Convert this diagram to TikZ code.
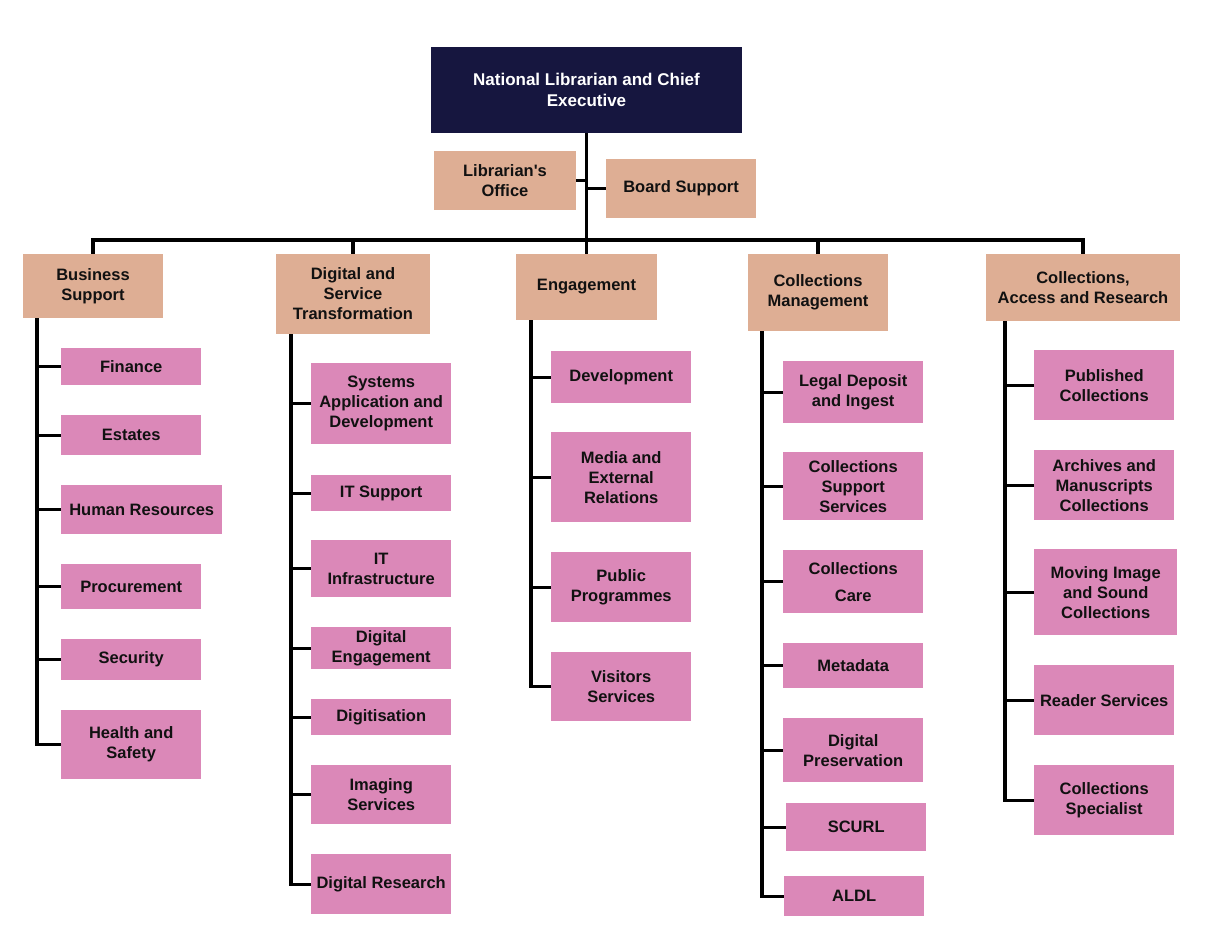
\documentclass[tikz,border=0pt]{standalone}
\usepackage{fontspec}
\setmainfont{Liberation Sans}[Ligatures=TeXOff]
\definecolor{navy}{HTML}{16163F}
\definecolor{tan}{HTML}{DEAE94}
\definecolor{pinkbox}{HTML}{DB88B8}
\definecolor{ink}{HTML}{111111}
\begin{document}
\begin{tikzpicture}[x=1pt,y=-1pt,
  box/.style={inner sep=0pt, align=center, text=ink,
    font=\bfseries\fontsize{16.5}{20}\selectfont},
  topbox/.style={box, fill=navy, text=white, font=\bfseries\fontsize{17}{21}\selectfont},
  midbox/.style={box, fill=tan},
  leaf/.style={box, fill=pinkbox, anchor=north west, minimum width=140},
  conn/.style={draw=black, line width=3.2pt, line join=miter}]
\useasboundingbox (0,0) rectangle (1210,946);
\fill[white] (0,0) rectangle (1210,946);

% top level
\node[topbox, minimum width=311, minimum height=86] (ceo) at (586.5,90) {National Librarian and Chief\\Executive};
\node[midbox, minimum width=142, minimum height=59] (lo) at (505,180.5) {Librarian's\\Office};
\node[midbox, minimum width=150, minimum height=59] (bsup) at (681,188.5) {Board Support};

% second level
\node[midbox, minimum width=140, minimum height=64] (bus) at (93,286) {Business\\Support};
\node[midbox, minimum width=154, minimum height=80] (dst) at (353,294) {Digital and\\Service\\Transformation};
\node[midbox, minimum width=141, minimum height=66] (eng) at (586.5,287) {Engagement};
\node[midbox, minimum width=140, minimum height=77] (cm) at (818,292.5) {Collections\\Management};
\node[midbox, minimum width=194, minimum height=67] (car) at (1083,287.5) {Collections,\\Access and Research};

% Business Support
\node[leaf, minimum height=37] (fin) at (61,348) {Finance};
\node[leaf, minimum height=40] (est) at (61,415) {Estates};
\node[leaf, minimum width=161, minimum height=49] (hr) at (61,485) {Human Resources};
\node[leaf, minimum height=45] (proc) at (61,564) {Procurement};
\node[leaf, minimum height=41] (sec) at (61,639) {Security};
\node[leaf, minimum height=69] (hs) at (61,710) {Health and\\Safety};

% Digital and Service Transformation
\node[leaf, minimum height=81] (sad) at (311,363) {Systems\\Application and\\Development};
\node[leaf, minimum height=36] (its) at (311,475) {IT Support};
\node[leaf, minimum height=57] (iti) at (311,540) {IT\\Infrastructure};
\node[leaf, minimum height=42] (de) at (311,627) {Digital\\Engagement};
\node[leaf, minimum height=36] (dig) at (311,699) {Digitisation};
\node[leaf, minimum height=59] (ims) at (311,765) {Imaging\\Services};
\node[leaf, minimum height=60] (dr) at (311,854) {Digital Research};

% Engagement
\node[leaf, minimum height=52] (dev) at (551,351) {Development};
\node[leaf, minimum height=90] (mer) at (551,432) {Media and\\External\\Relations};
\node[leaf, minimum height=70] (pp) at (551,552) {Public\\Programmes};
\node[leaf, minimum height=69] (vs) at (551,652) {Visitors\\Services};

% Collections Management
\node[leaf, minimum height=62] (ldi) at (783,361) {Legal Deposit\\and Ingest};
\node[leaf, minimum height=68] (css) at (783,452) {Collections\\Support\\Services};
\node[leaf, minimum height=63] (cc) at (783,550) {Collections\\[7pt]Care};
\node[leaf, minimum height=45] (md) at (783,643) {Metadata};
\node[leaf, minimum height=64] (dp) at (783,718) {Digital\\Preservation};
\node[leaf, minimum height=48] (scurl) at (786,803) {SCURL};
\node[leaf, minimum height=40] (aldl) at (784,876) {ALDL};

% Collections, Access and Research
\node[leaf, minimum height=70] (pc) at (1034,350) {Published\\Collections};
\node[leaf, minimum height=70] (amc) at (1034,450) {Archives and\\Manuscripts\\Collections};
\node[leaf, minimum width=143, minimum height=86] (mis) at (1034,549) {Moving Image\\and Sound\\Collections};
\node[leaf, minimum height=70] (rs) at (1034,665) {Reader Services};
\node[leaf, minimum height=70] (cs) at (1034,765) {Collections\\Specialist};

% connectors: top
\coordinate (hub) at (586.5,240);
\draw[conn] (ceo.south) -- (eng.north);
\draw[conn] (lo.east) -- (lo.east -| ceo.south);
\draw[conn] (bsup.west) -- (bsup.west -| ceo.south);
\draw[conn] (bus.north) |- (hub) -| (car.north);
\draw[conn] (dst.north) -- (dst.north |- hub);
\draw[conn] (cm.north) -- (cm.north |- hub);

% column spines
\coordinate (busx) at (37,318);
\coordinate (dstx) at (291,334);
\coordinate (engx) at (531,320);
\coordinate (cmx) at (762,331);
\coordinate (carx) at (1005,321);

\draw[conn] (busx) |- (hs.west);
\foreach \n in {fin,est,hr,proc,sec} \draw[conn] (busx |- \n.west) -- (\n.west);

\draw[conn] (dstx) |- (dr.west);
\foreach \n in {sad,its,iti,de,dig,ims} \draw[conn] (dstx |- \n.west) -- (\n.west);

\draw[conn] (engx) |- (vs.west);
\foreach \n in {dev,mer,pp} \draw[conn] (engx |- \n.west) -- (\n.west);

\draw[conn] (cmx) |- (aldl.west);
\foreach \n in {ldi,css,cc,md,dp,scurl} \draw[conn] (cmx |- \n.west) -- (\n.west);

\draw[conn] (carx) |- (cs.west);
\foreach \n in {pc,amc,mis,rs} \draw[conn] (carx |- \n.west) -- (\n.west);
\end{tikzpicture}
\end{document}
